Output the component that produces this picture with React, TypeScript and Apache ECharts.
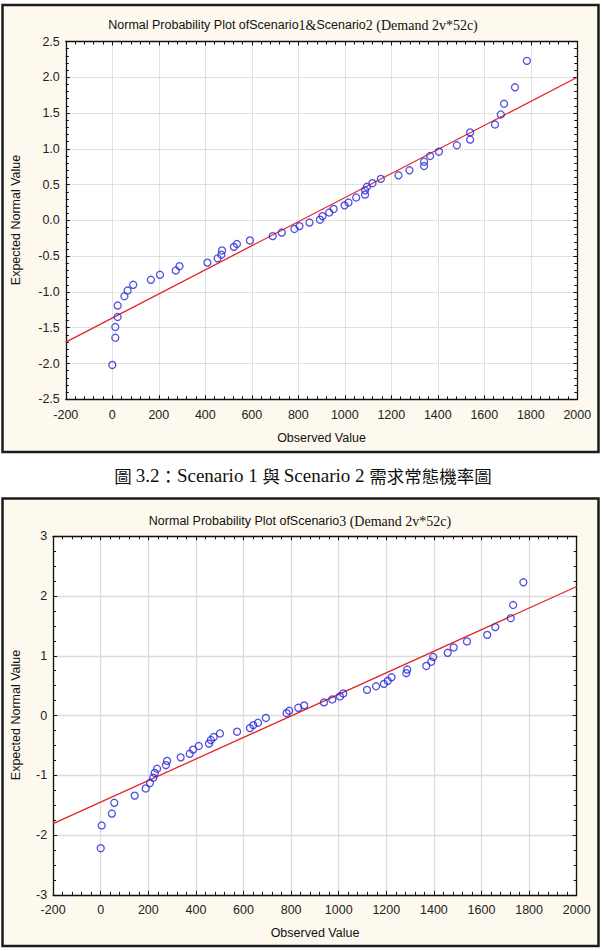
import { useEffect, useRef } from "react";
import * as echarts from "echarts";

// Scenario 1 & 2: observed weekly demand vs expected normal value
const obsS12 = [0, 13, 13, 23, 23, 52, 66, 90, 166, 205, 273, 289, 409, 453, 469, 472, 523, 536, 592, 690, 729, 783, 805, 848, 893, 904, 933, 952, 999, 1016, 1049, 1087, 1087, 1095, 1119, 1155, 1231, 1278, 1341, 1341, 1367, 1405, 1482, 1539, 1539, 1646, 1671, 1685, 1732, 1783];
const normS12 = [-2.02, -1.64, -1.49, -1.35, -1.19, -1.06, -0.98, -0.9, -0.83, -0.76, -0.7, -0.64, -0.59, -0.53, -0.48, -0.42, -0.37, -0.33, -0.28, -0.22, -0.17, -0.12, -0.08, -0.03, 0.01, 0.06, 0.11, 0.16, 0.21, 0.25, 0.32, 0.36, 0.42, 0.47, 0.52, 0.58, 0.63, 0.7, 0.76, 0.82, 0.9, 0.96, 1.05, 1.13, 1.23, 1.34, 1.48, 1.63, 1.86, 2.23];
const fitS12X = [-200, 2000];
const fitS12Y = [-1.7, 2.0];

// Scenario 3
const obsS3 = [0, 4, 47, 57, 143, 189, 207, 221, 227, 237, 274, 279, 336, 374, 388, 412, 455, 463, 475, 501, 573, 627, 641, 661, 694, 781, 792, 830, 855, 938, 973, 1005, 1019, 1119, 1157, 1190, 1206, 1222, 1284, 1288, 1368, 1389, 1397, 1458, 1483, 1539, 1624, 1658, 1723, 1733, 1776];
const normS3 = [-2.22, -1.84, -1.64, -1.46, -1.34, -1.22, -1.13, -1.04, -0.96, -0.89, -0.83, -0.76, -0.7, -0.64, -0.57, -0.51, -0.47, -0.41, -0.36, -0.3, -0.27, -0.21, -0.16, -0.12, -0.04, 0.04, 0.08, 0.13, 0.17, 0.22, 0.27, 0.32, 0.37, 0.43, 0.49, 0.53, 0.58, 0.64, 0.71, 0.77, 0.83, 0.9, 0.98, 1.05, 1.14, 1.24, 1.35, 1.48, 1.63, 1.85, 2.23];
const fitS3X = [-200, 2000];
const fitS3Y = [-1.81, 2.16];

// Axis ranges
const xRange = { min: -200, max: 2000, step: 200 };
const yRangeS12 = { min: -2.5, max: 2.5, step: 0.5 };
const yRangeS3 = { min: -3, max: 3, step: 1 };

const titleS12 = ["Normal Probability Plot of", "Scenario", "1&", "Scenario", "2 (Demand 2v*52c)"];
const titleS3 = ["Normal Probability Plot of", "Scenario", "3 (Demand 2v*52c)"];
const caption = ["圖 ", "3.2", "：", "Scenario 1 ", "與 ", "Scenario 2 ", "需求常態機率圖"];
const xName = "Observed Value";
const yName = "Expected Normal Value";

const SANS = "Liberation Sans, Arial, sans-serif";
const SERIF = "Liberation Serif, Times New Roman, serif";
const CJK = "Noto Sans CJK TC, sans-serif";
const INK = "#111";

function pairs(xs: number[], ys: number[]) {
  return xs.map((x, i) => [x, ys[i]]);
}

function axisPair(
  kind: "x" | "y",
  gridIndex: number,
  range: { min: number; max: number; step: number },
  minorSplit: number,
  gridType: "dotted" | "solid",
  labelFmt: (v: number) => string
) {
  const base = {
    type: "value",
    gridIndex,
    min: range.min,
    max: range.max,
    interval: range.step,
    axisLine: { show: true, onZero: false, lineStyle: { color: INK, width: 1.3 } },
    axisTick: { show: true, inside: true, length: 4, lineStyle: { color: INK, width: 1 } },
    minorTick: { show: true, splitNumber: minorSplit, length: 3, lineStyle: { color: INK, width: 1 } },
  };
  const main = {
    ...base,
    position: kind === "x" ? "bottom" : "left",
    splitLine: {
      show: true,
      lineStyle: { color: gridType === "dotted" ? "#c4c4c4" : "#dcdcdc", type: gridType, width: gridType === "dotted" ? 1 : 1.3 },
    },
    axisLabel: {
      show: true,
      margin: kind === "x" ? 9 : 6,
      color: "#222",
      fontFamily: SANS,
      fontSize: 12.5,
      formatter: labelFmt,
    },
  };
  const mirror = {
    ...base,
    position: kind === "x" ? "top" : "right",
    splitLine: { show: false },
    axisLabel: { show: false },
  };
  return [main, mirror];
}

function richRuns(parts: string[], fonts: string[], sizes: number[]) {
  const rich: Record<string, any> = {};
  let text = "";
  parts.forEach((p, i) => {
    const key = "r" + i;
    rich[key] = { fontFamily: fonts[i], fontSize: sizes[i], fill: "#111" };
    text += "{" + key + "|" + p + "}";
  });
  return { text, rich };
}

export default function App() {
  const ref = useRef<HTMLDivElement>(null);

  useEffect(() => {
    if (!ref.current) return;
    const chart = echarts.init(ref.current, undefined, { renderer: "svg" });

    const xFmt = (v: number) => String(v);
    const y1Fmt = (v: number) => v.toFixed(1);
    const y3Fmt = (v: number) => String(v);

    const xAxesTop = axisPair("x", 0, xRange, 5, "dotted", xFmt);
    const yAxesTop = axisPair("y", 0, yRangeS12, 5, "dotted", y1Fmt);
    const xAxesBot = axisPair("x", 1, xRange, 5, "solid", xFmt);
    const yAxesBot = axisPair("y", 1, yRangeS3, 4, "solid", y3Fmt);

    const t1 = richRuns(titleS12, [SANS, SANS, SERIF, SANS, SERIF], [12.5, 12.5, 14, 12.5, 14]);
    const t3 = richRuns(titleS3, [SANS, SANS, SERIF], [12.5, 12.5, 14]);
    const cap = richRuns(
      caption,
      [CJK, SERIF, CJK, SERIF, CJK, SERIF, CJK],
      [17.5, 19, 17.5, 19, 17.5, 19, 17.5]
    );

    const scatterStyle = {
      type: "scatter",
      symbol: "circle",
      symbolSize: 7,
      itemStyle: { color: "rgba(255,255,255,0)", borderColor: "#2626d9", borderWidth: 1.3 },
      z: 4,
    };
    const lineStyle = {
      type: "line",
      showSymbol: false,
      symbol: "none",
      lineStyle: { color: "#e42424", width: 1.3 },
      z: 3,
    };

    const textEl = (x: number, y: number, style: any, rotation = 0) => ({
      type: "text",
      x,
      y,
      rotation,
      z: 20,
      style: { align: "center", verticalAlign: "middle", fill: "#111", ...style },
    });

    chart.setOption({
      animation: false,
      backgroundColor: "#ffffff",
      grid: [
        { left: 65.8, top: 41.5, width: 511.5, height: 357.8, show: true, backgroundColor: "#ffffff", borderWidth: 0 },
        { left: 53.1, top: 536.3, width: 523.6, height: 358.5, show: true, backgroundColor: "#ffffff", borderWidth: 0 },
      ],
      xAxis: [...xAxesTop, ...xAxesBot],
      yAxis: [...yAxesTop, ...yAxesBot],
      series: [
        { ...lineStyle, xAxisIndex: 0, yAxisIndex: 0, data: pairs(fitS12X, fitS12Y) },
        { ...scatterStyle, xAxisIndex: 0, yAxisIndex: 0, data: pairs(obsS12, normS12) },
        { ...lineStyle, xAxisIndex: 2, yAxisIndex: 2, data: pairs(fitS3X, fitS3Y) },
        { ...scatterStyle, xAxisIndex: 2, yAxisIndex: 2, data: pairs(obsS3, normS3) },
      ],
      graphic: {
        elements: [
          {
            type: "rect",
            z: -10,
            shape: { x: 2.5, y: 5, width: 596, height: 447 },
            style: { fill: "#fdf9ee", stroke: "#1c1c1c", lineWidth: 2.5 },
          },
          {
            type: "rect",
            z: -10,
            shape: { x: 2.5, y: 498.5, width: 596, height: 447.5 },
            style: { fill: "#fdf9ee", stroke: "#1c1c1c", lineWidth: 2.5 },
          },
          textEl(293, 25, { text: t1.text, rich: t1.rich }),
          textEl(321.5, 438, { text: xName, fontFamily: SANS, fontSize: 12.5 }),
          textEl(16, 220, { text: yName, fontFamily: SANS, fontSize: 12.5 }, Math.PI / 2),
          textEl(303, 475, { text: cap.text, rich: cap.rich }),
          textEl(300, 521, { text: t3.text, rich: t3.rich }),
          textEl(315, 933, { text: xName, fontFamily: SANS, fontSize: 12.5 }),
          textEl(16, 715, { text: yName, fontFamily: SANS, fontSize: 12.5 }, Math.PI / 2),
        ],
      },
    });

    return () => chart.dispose();
  }, []);

  return (
    <div
      ref={ref}
      style={{ position: "absolute", left: 0, top: 0, width: 603, height: 951 }}
    />
  );
}
